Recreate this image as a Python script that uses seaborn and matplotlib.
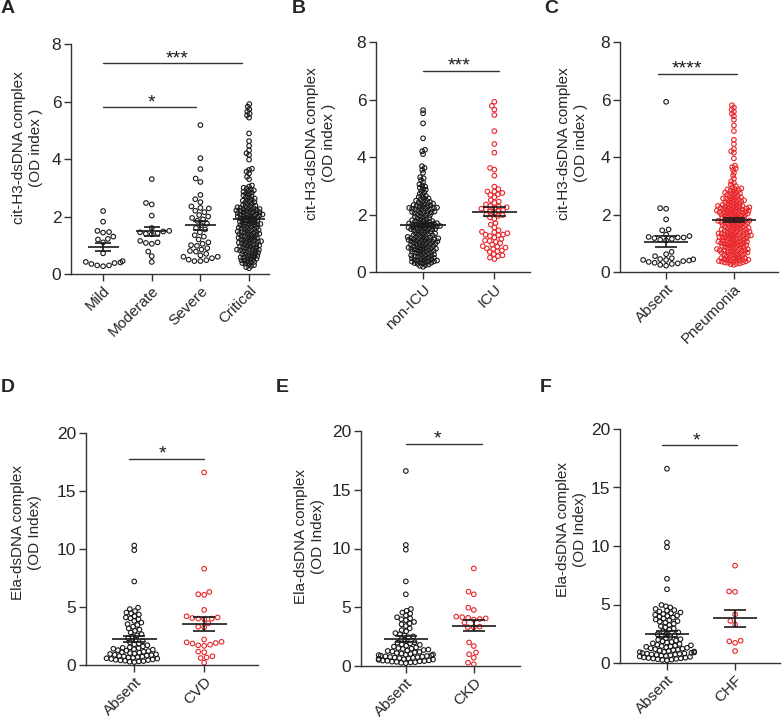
import matplotlib
matplotlib.use("Agg")
import matplotlib.pyplot as plt
import seaborn as sns
import numpy as np
import pandas as pd

# values (OD index per patient)
mild = [2.19, 1.82, 1.5, 1.46, 1.44, 1.3, 1.22, 1.2, 1.1, 0.72, 0.45, 0.42,
        0.4, 0.38, 0.35, 0.3, 0.3, 0.27]
moderate = [3.3, 2.47, 2.42, 2.03, 1.6, 1.5, 1.48, 1.45, 1.42, 1.4, 1.38, 1.15,
            1.1, 1.08, 1.05, 0.78, 0.62, 0.42]
severe = [5.18, 4.03, 3.65, 3.32, 3.2, 2.75, 2.6, 2.5, 2.35, 2.3, 2.28, 2.2,
          2.15, 2.05, 2.0, 1.95, 1.9, 1.85, 1.75, 1.7, 1.6, 1.55, 1.45, 1.35,
          1.3, 1.2, 1.1, 1.05, 1.0, 0.98, 0.9, 0.85, 0.8, 0.78, 0.7, 0.65, 0.6,
          0.6, 0.55, 0.5, 0.48, 0.45, 0.45]
critical = [5.91, 5.82, 5.73, 5.65, 5.58, 5.52, 5.44, 4.89, 4.62, 4.46, 4.3,
            4.2, 4.14, 3.98, 3.66, 3.62, 3.56, 3.5, 3.38, 3.3,
            3.08, 3.04, 3.0, 2.97, 2.94, 2.91,
            2.88, 2.86, 2.83, 2.8, 2.78, 2.74, 2.71, 2.68, 2.65, 2.62,
            2.59, 2.57, 2.55, 2.52, 2.5, 2.48, 2.45, 2.43, 2.4, 2.38, 2.36,
            2.34, 2.32, 2.3,
            2.29, 2.28, 2.26, 2.25, 2.24, 2.22, 2.21, 2.2, 2.19, 2.18, 2.16,
            2.15, 2.14, 2.12, 2.11, 2.1, 2.08, 2.07, 2.06, 2.05, 2.04, 2.03,
            2.02, 2.0,
            1.99, 1.97, 1.96, 1.94, 1.93, 1.91, 1.9, 1.88, 1.86, 1.85, 1.83,
            1.82, 1.8, 1.78, 1.77, 1.75, 1.74, 1.73, 1.72, 1.7,
            1.69, 1.67, 1.66, 1.64, 1.62, 1.61, 1.59, 1.58, 1.56, 1.55, 1.53,
            1.52, 1.5, 1.48, 1.47, 1.45, 1.44, 1.43, 1.42, 1.4,
            1.39, 1.37, 1.36, 1.34, 1.32, 1.31, 1.29, 1.28, 1.26, 1.25, 1.23,
            1.22, 1.2, 1.18, 1.17, 1.15, 1.14, 1.13, 1.12, 1.1,
            1.09, 1.07, 1.06, 1.04, 1.02, 1.01, 0.99, 0.98, 0.96, 0.95, 0.93,
            0.92, 0.9, 0.88, 0.87, 0.85, 0.84, 0.83, 0.82, 0.8,
            0.79, 0.77, 0.76, 0.74, 0.72, 0.7, 0.69, 0.67, 0.65, 0.63, 0.62,
            0.6, 0.58, 0.57, 0.55, 0.53, 0.52, 0.5,
            0.48, 0.46, 0.44, 0.42, 0.4, 0.38, 0.36, 0.34, 0.31, 0.28, 0.24, 0.2]

non_icu = [5.63, 5.52, 5.17, 4.65, 4.25, 4.2, 4.1, 3.68, 3.62, 3.55, 3.45, 3.3,
           3.26, 3.2, 3.12, 3.05, 3.01,
           2.97, 2.93, 2.9, 2.86, 2.81, 2.77, 2.72, 2.68, 2.65, 2.61,
           2.58, 2.56, 2.53, 2.5, 2.48, 2.46, 2.44, 2.42, 2.4, 2.38, 2.36,
           2.35, 2.33, 2.32, 2.3,
           2.29, 2.27, 2.26, 2.24, 2.23, 2.22, 2.21, 2.2, 2.19, 2.18, 2.17,
           2.15, 2.14, 2.12, 2.1, 2.09, 2.07, 2.06, 2.05, 2.03, 2.02, 2.0,
           1.98, 1.96, 1.94, 1.92, 1.9, 1.88, 1.86, 1.84, 1.82, 1.8, 1.79,
           1.77, 1.76, 1.75, 1.74, 1.73, 1.72, 1.7,
           1.69, 1.68, 1.66, 1.65, 1.64, 1.63, 1.62, 1.61, 1.6, 1.59, 1.58,
           1.57, 1.56, 1.55, 1.54, 1.53, 1.52, 1.51, 1.5, 1.49, 1.48, 1.46,
           1.45, 1.44, 1.42, 1.4,
           1.39, 1.37, 1.36, 1.34, 1.33, 1.31, 1.3, 1.28, 1.27, 1.25, 1.24,
           1.22, 1.21, 1.2, 1.19, 1.18, 1.17, 1.16, 1.15, 1.14, 1.13, 1.12,
           1.11, 1.1,
           1.09, 1.08, 1.07, 1.06, 1.05, 1.04, 1.03, 1.02, 1.0, 0.99, 0.98,
           0.96, 0.95, 0.94, 0.93, 0.91, 0.9, 0.89, 0.88, 0.86, 0.85, 0.84,
           0.83, 0.82, 0.81, 0.8,
           0.79, 0.78, 0.76, 0.75, 0.74, 0.72, 0.71, 0.7, 0.68, 0.67, 0.66,
           0.64, 0.63, 0.61, 0.6, 0.58, 0.57, 0.56, 0.54, 0.53, 0.52, 0.5,
           0.49, 0.48, 0.46, 0.45, 0.44, 0.42, 0.41, 0.4, 0.39, 0.38, 0.37,
           0.36, 0.35, 0.34, 0.32, 0.31, 0.3, 0.28, 0.26, 0.24, 0.21, 0.18]
icu = [5.92, 5.78, 5.65, 5.46, 4.9, 4.45, 4.15, 3.62, 3.56, 3.35,
       2.97, 2.88, 2.8, 2.8, 2.75, 2.7, 2.68, 2.6, 2.5, 2.45,
       2.4, 2.35, 2.3, 2.28, 2.25, 2.22, 2.2, 2.18, 2.15, 2.12,
       2.1, 2.05, 2.0, 1.98, 1.95, 1.9, 1.85, 1.7, 1.65, 1.55,
       1.45, 1.4, 1.38, 1.35, 1.3, 1.3, 1.28, 1.25, 1.2, 1.15,
       1.1, 1.08, 1.05, 1.0, 0.95, 0.9, 0.88, 0.85, 0.82, 0.8,
       0.75, 0.72, 0.7, 0.62, 0.58, 0.55, 0.5, 0.45]

absent_pna = [5.92, 2.22, 2.2, 1.83, 1.48, 1.45, 1.3, 1.25, 1.22, 1.2, 1.2,
              1.18, 1.15, 1.12, 1.1, 0.7, 0.62, 0.55, 0.48, 0.45, 0.44, 0.42,
              0.42, 0.4, 0.38, 0.35, 0.32, 0.3, 0.28, 0.25, 0.22]
pneumonia = [5.8, 5.72, 5.65, 5.58, 5.5, 5.42, 5.3, 5.1, 4.9, 4.6, 4.45, 4.28,
             4.2, 4.15, 3.95, 3.7, 3.65, 3.6, 3.55, 3.45, 3.35, 3.25,
             3.15, 3.1, 3.04, 2.99, 2.95, 2.91,
             2.89, 2.87, 2.85, 2.83, 2.8, 2.78, 2.76, 2.74, 2.72, 2.7, 2.68,
             2.66, 2.63, 2.61,
             2.59, 2.58, 2.56, 2.55, 2.53, 2.52, 2.5, 2.49, 2.47, 2.46, 2.44,
             2.42, 2.41, 2.39, 2.37, 2.36, 2.34, 2.33, 2.31, 2.3,
             2.29, 2.28, 2.27, 2.26, 2.25, 2.24, 2.23, 2.22, 2.21, 2.2, 2.19,
             2.18, 2.17, 2.16, 2.15, 2.14, 2.13, 2.12, 2.11, 2.1, 2.09, 2.08,
             2.07, 2.06, 2.05, 2.04, 2.03, 2.02, 2.01, 2.0,
             1.99, 1.98, 1.96, 1.95, 1.94, 1.93, 1.91, 1.9, 1.89, 1.88, 1.86,
             1.85, 1.84, 1.83, 1.81, 1.8, 1.79, 1.78, 1.77, 1.76, 1.75, 1.74,
             1.73, 1.72, 1.71, 1.7,
             1.69, 1.68, 1.66, 1.65, 1.64, 1.62, 1.61, 1.6, 1.58, 1.57, 1.56,
             1.55, 1.53, 1.52, 1.51, 1.5, 1.48, 1.47, 1.46, 1.45, 1.44, 1.43,
             1.42, 1.4,
             1.39, 1.38, 1.37, 1.36, 1.35, 1.34, 1.33, 1.32, 1.31, 1.3, 1.29,
             1.28, 1.27, 1.26, 1.25, 1.24, 1.23, 1.22, 1.21, 1.2, 1.19, 1.18,
             1.17, 1.16, 1.15, 1.13, 1.12, 1.1,
             1.09, 1.08, 1.07, 1.06, 1.05, 1.04, 1.03, 1.02, 1.01, 1.0, 0.99,
             0.98, 0.96, 0.95, 0.94, 0.93, 0.92, 0.91, 0.9, 0.88, 0.87, 0.86,
             0.85, 0.84, 0.82, 0.8,
             0.79, 0.78, 0.77, 0.76, 0.75, 0.74, 0.73, 0.72, 0.71, 0.7, 0.68,
             0.67, 0.66, 0.65, 0.64, 0.62, 0.61, 0.6, 0.58, 0.57, 0.56, 0.54,
             0.52, 0.5,
             0.49, 0.48, 0.47, 0.46, 0.45, 0.44, 0.43, 0.42, 0.41, 0.4, 0.39,
             0.38, 0.37, 0.36, 0.35, 0.34, 0.33, 0.32, 0.3, 0.29, 0.27, 0.25]

absent_cvd = [10.3, 9.9, 7.2, 4.94, 4.82, 4.65, 4.52, 4.45, 4.35, 4.2, 4.1,
              4.02, 3.95, 3.8, 3.65, 3.52, 3.45, 3.3, 3.15, 3.05, 2.95, 2.8,
              2.65, 2.55, 2.45, 2.3, 2.15, 2.05, 1.95, 1.85, 1.78, 1.7, 1.6,
              1.52, 1.48, 1.45, 1.4, 1.36, 1.32, 1.28, 1.24, 1.2, 1.15, 1.1,
              1.06, 1.02, 0.98, 0.95, 0.92, 0.88, 0.85, 0.82, 0.78, 0.75,
              0.72, 0.68, 0.65, 0.62, 0.58, 0.55, 0.52, 0.48, 0.45, 0.42, 0.4,
              0.37, 0.34, 0.31, 0.28, 0.25]
cvd = [16.6, 8.3, 6.3, 6.1, 6.05, 4.75, 4.2, 4.1, 4.05, 4.0, 4.0, 3.95, 3.6,
       3.3, 3.25, 2.2, 2.0, 1.95, 1.9, 1.85, 1.75, 1.7, 1.65, 1.15, 1.1, 0.75,
       0.65, 0.6, 0.2]

absent_ckd = [16.6, 10.3, 9.9, 7.2, 6.1, 4.85, 4.7, 4.55, 4.45, 4.3, 4.15,
              4.05, 3.98, 3.9, 3.75, 3.62, 3.55, 3.4, 3.2, 3.05, 2.95, 2.8,
              2.7, 2.6, 2.52, 2.45, 2.3, 2.15, 2.02, 1.98, 1.92, 1.85, 1.8,
              1.72, 1.65, 1.58, 1.52, 1.48, 1.45, 1.4, 1.36, 1.32, 1.28, 1.24,
              1.2, 1.15, 1.1, 1.06, 1.02, 0.98, 0.96, 0.93, 0.9, 0.88, 0.85,
              0.82, 0.8, 0.77, 0.75, 0.72, 0.7, 0.67, 0.64, 0.61, 0.58, 0.55,
              0.52, 0.48, 0.46, 0.44, 0.42, 0.4, 0.37, 0.35, 0.32, 0.3, 0.27,
              0.24]
ckd = [8.3, 6.33, 6.1, 4.96, 4.77, 4.2, 4.15, 4.1, 4.05, 4.0, 3.95, 3.7, 3.35,
       3.3, 3.3, 2.0, 1.7, 1.15, 1.0, 0.7, 0.28, 0.15]

absent_chf = [16.6, 10.3, 9.9, 7.2, 6.3, 4.96, 4.85, 4.75, 4.62, 4.52, 4.48,
              4.4, 4.32, 4.25, 4.18, 4.12, 4.06, 4.01, 3.96, 3.88, 3.8, 3.72,
              3.65, 3.58, 3.52, 3.45, 3.35, 3.25, 3.15, 3.05, 2.95, 2.85,
              2.72, 2.62, 2.52, 2.46, 2.38, 2.3, 2.22, 2.12, 2.04, 1.98, 1.92,
              1.86, 1.8, 1.75, 1.68, 1.62, 1.56, 1.51, 1.48, 1.45, 1.41, 1.38,
              1.34, 1.3, 1.26, 1.22, 1.18, 1.14, 1.1, 1.06, 1.02, 0.98, 0.95,
              0.93, 0.9, 0.88, 0.85, 0.82, 0.8, 0.77, 0.74, 0.72, 0.69, 0.66,
              0.63, 0.6, 0.56, 0.52, 0.48, 0.45, 0.43, 0.4, 0.38, 0.35, 0.32,
              0.29, 0.26, 0.23]
chf = [8.32, 6.12, 6.08, 4.16, 3.6, 3.3, 1.9, 1.85, 1.72, 1.02]

BLACK = "#1a1a1a"
RED = "#e8262a"
LINE = "#333333"
W, H = 784, 721
MARKER = 3.3

cit_label = "cit-H3-dsDNA complex\n(OD index )"
ela_label = "Ela-dsDNA complex\n(OD Index)"

# box = (left, top, right, bottom) in pixels, lab_px = right edge of y label
panels = [
    dict(letter="A", lxy=(1, 0), box=(71, 44, 269, 274), xlim=(-0.66, 3.41),
         groups=["Mild", "Moderate", "Severe", "Critical"],
         values=[mild, moderate, severe, critical], colors=[BLACK] * 4,
         ymax=8, ystep=2, ylabel=cit_label, lab_px=43, lab_y=0.55,
         sig=[(0, 2.85, 7.33, 1.52, "***"), (0, 1.9, 5.8, 1.0, "*")]),
    dict(letter="B", lxy=(292, 0), box=(376, 42, 530, 272), xlim=(-0.66, 1.5),
         groups=["non-ICU", "ICU"], values=[non_icu, icu], colors=[BLACK, RED],
         ymax=8, ystep=2, ylabel=cit_label, lab_px=336, lab_y=0.56,
         sig=[(0, 1.06, 7.0, 0.51, "***")]),
    dict(letter="C", lxy=(544, 0), box=(620, 42, 778, 272), xlim=(-0.68, 1.65),
         groups=["Absent", "Pneumonia"], values=[absent_pna, pneumonia],
         colors=[BLACK, RED], ymax=8, ystep=2, ylabel=cit_label,
         lab_px=588, lab_y=0.56,
         sig=[(-0.12, 1.04, 6.89, 0.31, "****")]),
    dict(letter="D", lxy=(1, 379), box=(86, 433, 258, 665), xlim=(-0.69, 1.77),
         groups=["Absent", "CVD"], values=[absent_cvd, cvd], colors=[BLACK, RED],
         ymax=20, ystep=5, ylabel=ela_label, lab_px=42, lab_y=0.57,
         sig=[(-0.07, 1.0, 17.8, 0.4, "*")]),
    dict(letter="E", lxy=(276, 379), box=(361, 431, 520, 666), xlim=(-0.66, 1.68),
         groups=["Absent", "CKD"], values=[absent_ckd, ckd], colors=[BLACK, RED],
         ymax=20, ystep=5, ylabel=ela_label, lab_px=325, lab_y=0.55,
         sig=[(0, 1.12, 18.9, 0.46, "*")]),
    dict(letter="F", lxy=(540, 379), box=(620, 429, 780, 663), xlim=(-0.69, 1.66),
         groups=["Absent", "CHF"], values=[absent_chf, chf], colors=[BLACK, RED],
         ymax=20, ystep=5, ylabel=ela_label, lab_px=587, lab_y=0.57,
         sig=[(-0.07, 1.03, 18.6, 0.44, "*")]),
]


def place_size(n):
    # smaller footprint for dense groups so the swarm overlaps like the original
    if n < 45:
        return MARKER
    if n < 120:
        return 2.4
    return 1.35


sns.set_style("ticks")
plt.rcParams["font.family"] = ["Liberation Sans", "DejaVu Sans"]

fig = plt.figure(figsize=(W / 100, H / 100), dpi=100)
swarms = []

for p in panels:
    l, t, r, b = p["box"]
    ax = fig.add_axes([l / W, 1 - b / H, (r - l) / W, (b - t) / H])
    df = pd.DataFrame({
        "group": np.repeat(p["groups"], [len(v) for v in p["values"]]),
        "value": np.concatenate(p["values"]),
    })
    pal = dict(zip(p["groups"], p["colors"]))
    sns.swarmplot(data=df, x="group", y="value", hue="group", palette=pal,
                  order=p["groups"], hue_order=p["groups"], size=MARKER,
                  linewidth=0.8, legend=False, warn_thresh=1, ax=ax)
    for coll in list(ax.collections):
        idx = int(round(np.mean(coll.get_offsets()[:, 0])))
        swarms.append((coll, len(p["values"][idx]), p["colors"][idx]))

    ax.set_xlim(*p["xlim"])
    ax.set_ylim(0, p["ymax"])
    ax.set_yticks(np.arange(0, p["ymax"] + 1, p["ystep"]))
    ax.set_xlabel("")
    ax.set_ylabel(p["ylabel"], fontsize=11, linespacing=1.3)
    ax.yaxis.set_label_coords((p["lab_px"] - l) / (r - l), p["lab_y"])
    sns.despine(ax=ax)
    for side in ["left", "bottom"]:
        ax.spines[side].set_linewidth(1)
        ax.spines[side].set_color(LINE)
    ax.tick_params(axis="both", length=5, width=1, color=LINE)
    ax.tick_params(axis="y", labelsize=12.5, pad=2)
    ax.tick_params(axis="x", pad=2)
    ax.set_xticks(range(len(p["groups"])))
    ax.set_xticklabels(p["groups"], rotation=45, ha="right",
                       rotation_mode="anchor", fontsize=11)

    # mean +/- SEM
    for i, vals in enumerate(p["values"]):
        v = np.asarray(vals)
        m = v.mean()
        sem = v.std(ddof=1) / np.sqrt(len(v))
        ax.hlines(m, i - 0.32, i + 0.32, color=BLACK, lw=1.2, zorder=6)
        ax.hlines([m - sem, m + sem], i - 0.16, i + 0.16, color=BLACK, lw=1.2,
                  zorder=6)
        ax.vlines(i, m - sem, m + sem, color=BLACK, lw=1.2, zorder=6)

    # significance brackets
    for x1, x2, y, sx, stars in p["sig"]:
        ax.plot([x1, x2], [y, y], color=LINE, lw=1, clip_on=False)
        ax.text(sx, y, stars, ha="center", va="baseline", fontsize=14,
                color=BLACK, clip_on=False)

    fig.text(p["lxy"][0] / W, 1 - p["lxy"][1] / H, p["letter"],
             fontsize=14, fontweight="bold", va="top", ha="left")

# lay out the swarms with the final axes geometry, then freeze them
for coll, n, color in swarms:
    coll.set_sizes([place_size(n) ** 2])
fig.canvas.draw()
for coll, n, color in swarms:
    if "draw" in coll.__dict__:
        del coll.draw
    coll.set_sizes([MARKER ** 2])
    coll.set_facecolor("none")
    coll.set_edgecolor(color)
    coll.set_linewidth(0.8)
    coll.set_zorder(3)

fig.savefig("out.png", dpi=100)
